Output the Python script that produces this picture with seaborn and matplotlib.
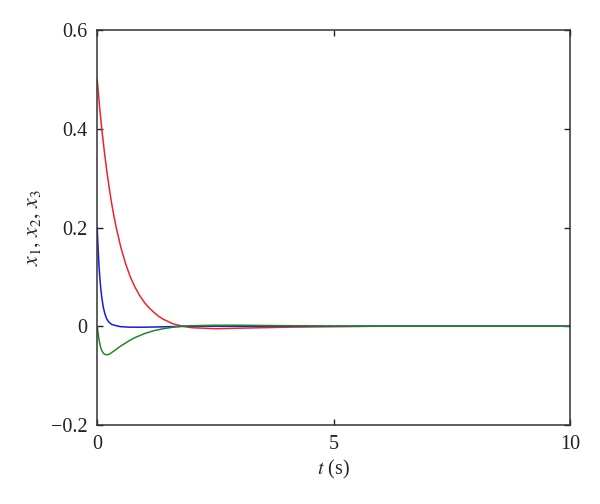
import pandas as pd
import numpy as np
import matplotlib
matplotlib.use('Agg')
import matplotlib.pyplot as plt
import seaborn as sns

# values
t_x1 = [0, 0.05, 0.1, 0.15, 0.2, 0.25, 0.3, 0.35, 0.4, 0.5, 0.6, 0.7, 0.8, 0.9,
        1.0, 1.1, 1.2, 1.3, 1.4, 1.6, 1.8, 2.0, 2.5, 3.0, 4.0, 5.0, 6.0, 8.0, 10.0]
x1 = [0.5, 0.445, 0.397, 0.355, 0.317, 0.283, 0.252, 0.225, 0.201, 0.160, 0.127,
      0.100, 0.079, 0.062, 0.048, 0.037, 0.028, 0.020, 0.014, 0.005, 0.0,
      -0.003, -0.005, -0.004, -0.002, -0.001, 0.0, 0.0, 0.0]

t_x2 = [0, 0.02, 0.04, 0.06, 0.08, 0.1, 0.13, 0.16, 0.2, 0.25, 0.3, 0.4, 0.5,
        0.7, 1.0, 1.5, 2.0, 4.0, 6.0, 8.0, 10.0]
x2 = [0.2, 0.155, 0.12, 0.093, 0.072, 0.056, 0.038, 0.026, 0.015, 0.008, 0.004,
      0.001, -0.001, -0.002, -0.002, -0.001, 0.0, 0.0, 0.0, 0.0, 0.0]

t_x3 = [0, 0.02, 0.04, 0.06, 0.08, 0.1, 0.13, 0.16, 0.2, 0.25, 0.3, 0.4, 0.5,
        0.6, 0.7, 0.8, 0.9, 1.0, 1.2, 1.4, 1.6, 1.8, 2.0, 2.5, 3.0, 4.0, 5.0,
        6.0, 8.0, 10.0]
x3 = [0.0, -0.015, -0.028, -0.038, -0.045, -0.050, -0.055, -0.057, -0.058,
      -0.057, -0.054, -0.047, -0.040, -0.034, -0.028, -0.023, -0.019, -0.015,
      -0.009, -0.005, -0.002, 0.0, 0.001, 0.002, 0.002, 0.001, 0.0005, 0.0,
      0.0, 0.0]

series = ['x1', 'x2', 'x3']
colors = {'x1': '#e8262a', 'x2': '#1a1ae0', 'x3': '#1f8a24'}

df = pd.concat([
    pd.DataFrame({'t': t_x1, 'value': x1, 'state': 'x1'}),
    pd.DataFrame({'t': t_x2, 'value': x2, 'state': 'x2'}),
    pd.DataFrame({'t': t_x3, 'value': x3, 'state': 'x3'}),
], ignore_index=True)

sns.set_style('ticks')
plt.rcParams['font.family'] = ['Liberation Serif', 'DejaVu Serif']
plt.rcParams['mathtext.fontset'] = 'stix'

fig = plt.figure(figsize=(6, 5.04), dpi=100)
ax = fig.add_axes([0.162, 0.157, 0.788, 0.783])

sns.lineplot(data=df, x='t', y='value', hue='state', hue_order=series,
             palette=colors, estimator=None, sort=False, linewidth=1.1,
             legend=False, ax=ax)

ax.set_xlim(0, 10)
ax.set_ylim(-0.2, 0.6)
ax.set_xticks([0, 5, 10])
ax.set_xticklabels(['0', '5', '10'])
ax.set_yticks([-0.2, 0, 0.2, 0.4, 0.6])
ax.set_yticklabels(['\u22120.2', '0', '0.2', '0.4', '0.6'])
ax.tick_params(direction='in', length=4, width=1, labelsize=14.5,
               top=True, right=True, colors='#222222', pad=7)
for s in ax.spines.values():
    s.set_color('#333333')
    s.set_linewidth(1.1)

ax.set_xlabel(r'$t$ (s)', fontsize=14.5, labelpad=3)
ax.set_ylabel(r'$x_1,\, x_2,\, x_3$', fontsize=15.5, labelpad=6)

fig.savefig('out.png', dpi=100)
